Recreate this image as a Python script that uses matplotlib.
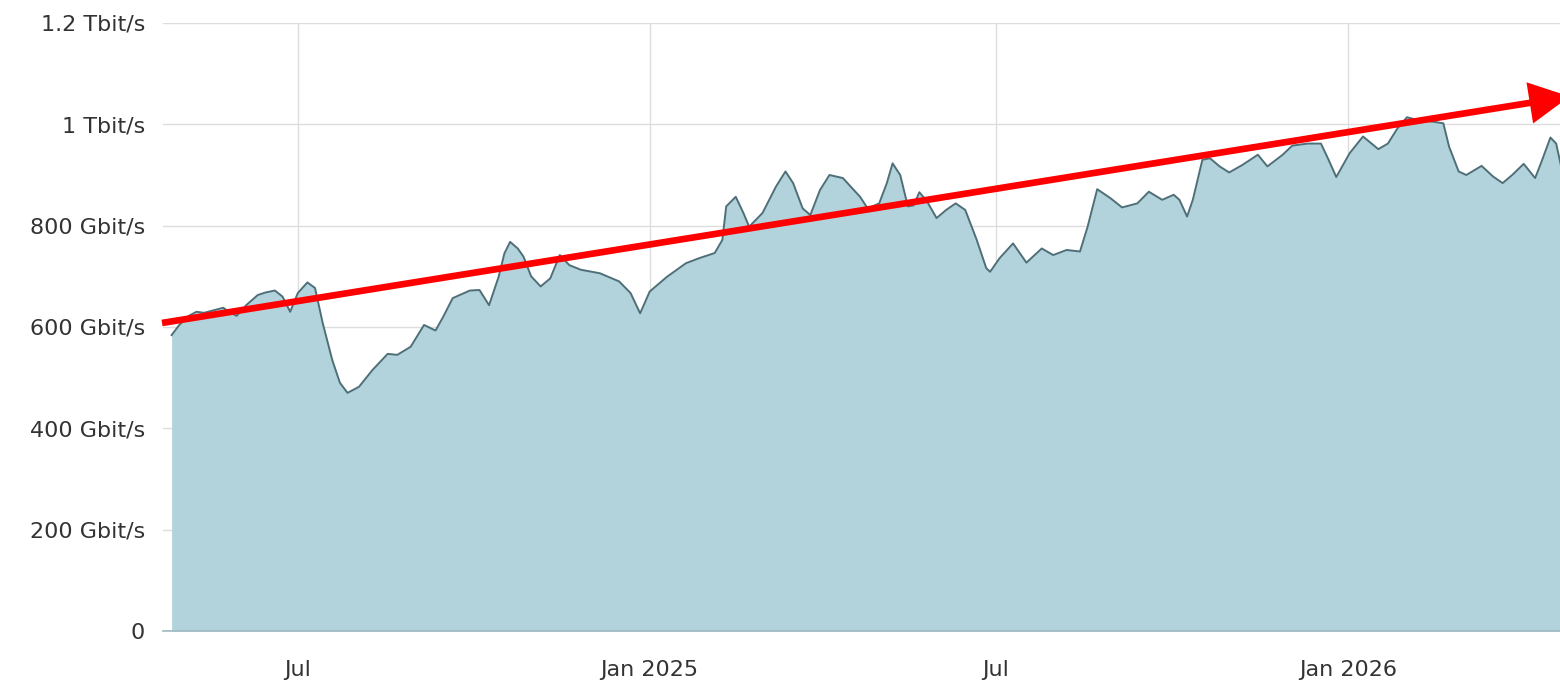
import pandas as pd
import matplotlib.pyplot as plt

# --- traffic samples (Gbit/s) ---
dates = [
    "2024-04-26", "2024-04-30", "2024-05-05", "2024-05-09", "2024-05-13", "2024-05-17",
    "2024-05-23", "2024-05-26", "2024-05-30", "2024-06-04", "2024-06-10", "2024-06-14",
    "2024-06-19", "2024-06-23", "2024-06-27", "2024-07-01", "2024-07-06", "2024-07-10",
    "2024-07-14", "2024-07-19", "2024-07-23", "2024-07-27", "2024-08-02", "2024-08-09",
    "2024-08-17", "2024-08-22", "2024-08-29", "2024-09-05", "2024-09-11", "2024-09-15",
    "2024-09-20", "2024-09-29", "2024-10-04", "2024-10-09", "2024-10-14", "2024-10-17",
    "2024-10-20", "2024-10-24", "2024-10-27", "2024-10-31", "2024-11-05", "2024-11-10",
    "2024-11-15", "2024-11-20", "2024-11-26", "2024-12-06", "2024-12-16", "2024-12-22",
    "2024-12-27", "2025-01-01", "2025-01-10", "2025-01-20", "2025-01-27", "2025-02-04",
    "2025-02-08", "2025-02-10", "2025-02-15", "2025-02-19", "2025-02-22", "2025-03-01",
    "2025-03-08", "2025-03-13", "2025-03-17", "2025-03-22", "2025-03-26", "2025-03-31",
    "2025-04-05", "2025-04-12", "2025-04-21", "2025-04-25", "2025-05-01", "2025-05-05",
    "2025-05-08", "2025-05-12", "2025-05-16", "2025-05-19", "2025-05-22", "2025-05-26",
    "2025-05-31", "2025-06-05", "2025-06-10", "2025-06-15", "2025-06-21", "2025-06-26",
    "2025-06-28", "2025-07-03", "2025-07-10", "2025-07-17", "2025-07-25", "2025-07-31",
    "2025-08-07", "2025-08-14", "2025-08-18", "2025-08-23", "2025-08-30", "2025-09-05",
    "2025-09-13", "2025-09-19", "2025-09-26", "2025-10-02", "2025-10-05", "2025-10-09",
    "2025-10-12", "2025-10-17", "2025-10-21", "2025-10-26", "2025-10-31", "2025-11-07",
    "2025-11-15", "2025-11-20", "2025-11-28", "2025-12-03", "2025-12-11", "2025-12-18",
    "2025-12-22", "2025-12-26", "2026-01-02", "2026-01-09", "2026-01-17", "2026-01-22",
    "2026-01-27", "2026-02-01", "2026-02-06", "2026-02-15", "2026-02-20", "2026-02-23",
    "2026-02-28", "2026-03-04", "2026-03-12", "2026-03-18", "2026-03-23", "2026-03-28",
    "2026-04-03", "2026-04-09", "2026-04-12", "2026-04-17", "2026-04-20", "2026-04-23",
]
traffic = [
    584, 604, 622, 630, 628, 632, 638, 630, 622, 643, 663, 668,
    672, 660, 630, 667, 688, 677, 608, 535, 490, 470, 482, 515,
    547, 545, 561, 604, 593, 620, 657, 672, 673, 643, 699, 745,
    768, 755, 739, 700, 680, 696, 742, 722, 713, 706, 690, 667,
    627, 670, 699, 726, 736, 746, 772, 838, 857, 825, 798, 825,
    877, 907, 884, 834, 821, 870, 900, 894, 857, 834, 844, 884,
    923, 900, 838, 840, 866, 848, 815, 831, 844, 831, 772, 716,
    709, 736, 765, 727, 755, 742, 752, 749, 798, 872, 854, 836,
    844, 867, 851, 861, 851, 818, 851, 930, 933, 917, 905, 920,
    940, 917, 940, 958, 962, 962, 930, 896, 943, 976, 951, 962,
    992, 1014, 1009, 1005, 1002, 956, 907, 900, 918, 897, 884, 900,
    922, 894, 923, 974, 962, 910,
]

# trend arrow (start / tip, Gbit/s)
trend_dates = ["2024-04-21", "2026-04-27"]
trend_values = [608, 1055]

ytick_values = [0, 200, 400, 600, 800, 1000, 1200]
ytick_labels = ["0", "200 Gbit/s", "400 Gbit/s", "600 Gbit/s", "800 Gbit/s",
                "1 Tbit/s", "1.2 Tbit/s"]
xtick_dates = ["2024-07-01", "2025-01-01", "2025-07-01", "2026-01-01"]
xtick_labels = ["Jul", "Jan 2025", "Jul", "Jan 2026"]

x = pd.to_datetime(dates)

plt.rcParams["font.family"] = ["DejaVu Sans"]

fig = plt.figure(figsize=(15.6, 6.84), dpi=100)
ax = fig.add_axes([163 / 1560, 53 / 684, 1 - 163 / 1560, 608 / 684])

ax.fill_between(x, traffic, 0, color="#b2d3dc", lw=0, zorder=2)
ax.plot(x, traffic, color="#4f6f78", lw=1.4, zorder=3)

ax.set_xlim(pd.Timestamp("2024-04-21 12:00"), pd.Timestamp("2026-04-22"))
ax.set_ylim(0, 1200)

ax.set_yticks(ytick_values)
ax.set_yticklabels(ytick_labels)
ax.set_xticks(pd.to_datetime(xtick_dates))
ax.set_xticklabels(xtick_labels)

ax.tick_params(axis="both", length=0, labelsize=16, labelcolor="#333333")
ax.tick_params(axis="y", pad=13)
ax.tick_params(axis="x", pad=21)

ax.grid(True, color="#dddddd", lw=1.0, zorder=0)
ax.set_axisbelow(True)
for side in ["top", "right", "left"]:
    ax.spines[side].set_visible(False)
ax.spines["bottom"].set_color("#9fb9c1")
ax.spines["bottom"].set_linewidth(1.2)
ax.spines["bottom"].set_zorder(4)

td = pd.to_datetime(trend_dates)
ax.annotate("", xy=(td[1], trend_values[1]), xytext=(td[0], trend_values[0]),
            annotation_clip=False,
            arrowprops=dict(arrowstyle="simple,head_length=29,head_width=30,tail_width=4.8",
                            mutation_scale=1, lw=0, color="#ff0000",
                            shrinkA=0, shrinkB=0),
            zorder=5)

fig.savefig("out.png", dpi=100)
